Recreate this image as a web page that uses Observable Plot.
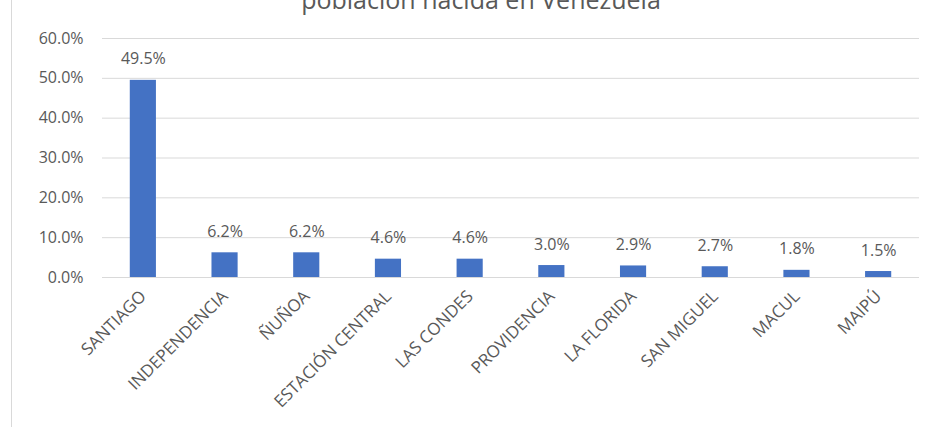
<!DOCTYPE html>
<html>
<head>
<meta charset="utf-8">
<script src="https://cdn.jsdelivr.net/npm/d3@7"></script>
<script src="https://cdn.jsdelivr.net/npm/@observablehq/plot@0.6"></script>
<style>
  html, body { margin: 0; padding: 0; background: #fff; }
  #wrap { position: relative; width: 939px; height: 427px; overflow: hidden; }
  #border { position: absolute; left: 11px; top: 0; width: 0; height: 427px; border-left: 1px solid #d9d9d9; }
</style>
</head>
<body>
<div id="wrap"><div id="border"></div></div>
<script>
const categories = ["SANTIAGO", "INDEPENDENCIA", "ÑUÑOA", "ESTACIÓN CENTRAL", "LAS CONDES", "PROVIDENCIA", "LA FLORIDA", "SAN MIGUEL", "MACUL", "MAIPÚ"];
const values = [0.495, 0.062, 0.062, 0.046, 0.046, 0.030, 0.029, 0.027, 0.018, 0.015];
const yTicks = [0, 0.1, 0.2, 0.3, 0.4, 0.5, 0.6];
const titleText = "población nacida en Venezuela";

const data = categories.map((c, i) => ({cat: c, value: values[i]}));
const pct = v => (v * 100).toFixed(1) + "%";

const chart = Plot.plot({
  width: 939,
  height: 427,
  marginLeft: 102,
  marginRight: 20,
  marginTop: 38,
  marginBottom: 150,
  style: {fontFamily: "Open Sans", color: "#595959", background: "transparent", overflow: "visible"},
  x: {domain: categories, paddingInner: 0.68, paddingOuter: 0.34, round: false, label: null},
  y: {domain: [0, 0.6], label: null},
  marks: [
    Plot.gridY(yTicks, {stroke: "#d9d9d9", strokeOpacity: 1}),
    Plot.axisY({ticks: yTicks, tickFormat: pct, tickSize: 0, tickPadding: 19, fontSize: 16, fill: "#595959"}),
    Plot.axisX({tickRotate: -45, tickSize: 0, tickPadding: 16, fontSize: 17, fill: "#595959"}),
    Plot.barY(data, {x: "cat", y: "value", fill: "#4472c4"}),
    Plot.text(data, {x: "cat", y: "value", text: d => pct(d.value), dy: -21, fontSize: 16, fill: "#595959"}),
    Plot.text([titleText], {frameAnchor: "top", lineAnchor: "bottom", dy: -30, dx: -30, fontSize: 25, fill: "#595959"})
  ]
});
document.getElementById("wrap").appendChild(chart);
</script>
</body>
</html>
